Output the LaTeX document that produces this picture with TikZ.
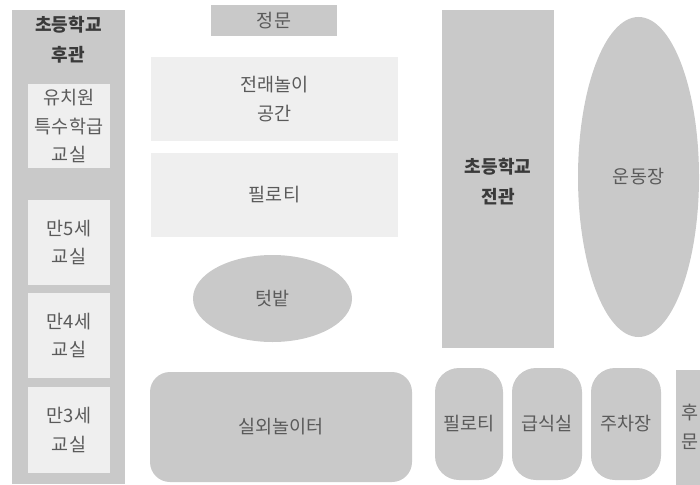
\documentclass[tikz,border=0pt]{standalone}
\usepackage{fontspec}
\setmainfont{Noto Sans CJK KR}
\usetikzlibrary{shapes.geometric}
\definecolor{darkbox}{HTML}{C9C9C9}
\definecolor{lightbox}{HTML}{EFEFEF}
\definecolor{txt}{HTML}{5A5A5A}
\definecolor{txtb}{HTML}{3A3A3A}
\tikzset{
  area/.style={rectangle, inner sep=0pt, align=center, text=txt,
    font=\fontsize{18.5}{28.5}\selectfont},
  darkarea/.style={area, fill=darkbox},
  lightarea/.style={area, fill=lightbox},
  roundarea/.style={darkarea, rounded corners=#1},
  ovalarea/.style={ellipse, inner sep=0pt, fill=darkbox, text=txt, align=center,
    font=\fontsize{18.5}{29}\selectfont},
  boldlabel/.style={inner sep=0pt, align=center, text=txtb,
    font=\fontsize{18}{30}\selectfont\bfseries}
}
\begin{document}
\begin{tikzpicture}[x=1pt,y=-1pt]
\useasboundingbox (0,0) rectangle (700,484);
\clip (0,0) rectangle (700,484);
% left building
\node[darkarea, minimum width=113pt, minimum height=474pt] (back) at (68.5,247) {};
\node[boldlabel] (backlabel) at (68.5,40) {초등학교\\후관};
\node[lightarea, minimum width=82pt, minimum height=84pt] (kinder) at (69,126) {유치원\\특수학급\\교실};
\node[lightarea, minimum width=82pt, minimum height=85pt] (age5) at (69,242.5) {만5세\\교실};
\node[lightarea, minimum width=82pt, minimum height=85pt] (age4) at (69,335.5) {만4세\\교실};
\node[lightarea, minimum width=82pt, minimum height=86pt] (age3) at (69,430) {만3세\\교실};
% middle
\node[darkarea, minimum width=126pt, minimum height=31pt] (gate) at (274,20.5) {정문};
\node[lightarea, minimum width=247pt, minimum height=83pt] (play) at (274.5,99) {전래놀이\\공간};
\node[lightarea, minimum width=247pt, minimum height=84pt] (pilotis) at (274.5,195) {필로티};
\node[ovalarea, minimum width=159pt, minimum height=87pt] (garden) at (272.5,298.5) {텃밭};
\node[roundarea=20pt, minimum width=262pt, minimum height=110pt] (playground) at (281,427) {실외놀이터};
% right
\node[darkarea, minimum width=112pt, minimum height=338pt] (front) at (498,179) {};
\node[boldlabel] (frontlabel) at (498,182) {초등학교\\전관};
\node[ovalarea, minimum width=121pt, minimum height=320pt] (field) at (638.5,177) {운동장};
\node[roundarea=24pt, minimum width=68pt, minimum height=112pt] (pilotis2) at (469,424) {필로티};
\node[roundarea=24pt, minimum width=70pt, minimum height=112pt] (cafeteria) at (547,424) {급식실};
\node[roundarea=24pt, minimum width=70pt, minimum height=112pt] (parking) at (626,424) {주차장};
\node[darkarea, minimum width=70pt, minimum height=120pt] (backgate) at (711,430) {};
\node[area] (backgatelabel) at (689.5,427) {후\\문};
\end{tikzpicture}
\end{document}
